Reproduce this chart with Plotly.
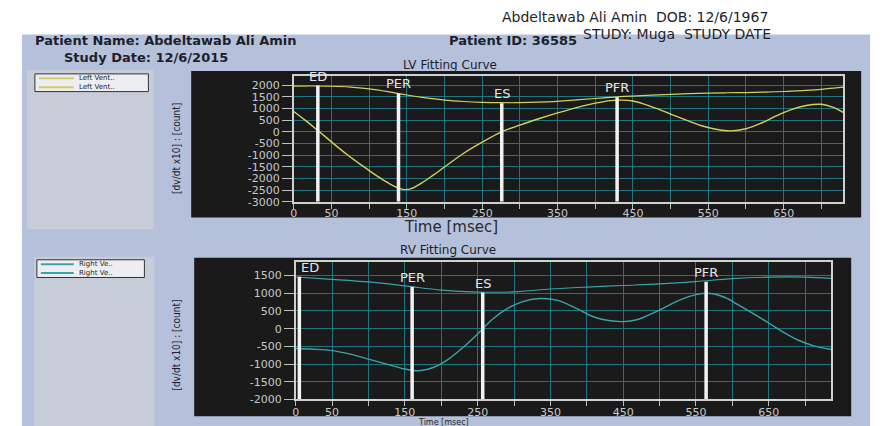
import plotly.graph_objects as go

W, H = 885, 426

# ---------------- data ----------------
lv_vol_t = [0, 25, 50, 75, 100, 125, 150, 175, 200, 225, 250, 275, 300, 325, 350, 375, 400,
            425, 450, 475, 500, 525, 550, 575, 600, 625, 650, 675, 700, 729]
lv_vol = [1960, 1965, 1955, 1920, 1840, 1720, 1580, 1460, 1360, 1300, 1265, 1250, 1250, 1270,
          1310, 1370, 1430, 1490, 1535, 1575, 1605, 1635, 1660, 1675, 1685, 1705, 1730, 1770,
          1820, 1915]

lv_rate_t = [0, 15, 30, 45, 60, 75, 90, 105, 120, 135, 145, 155, 170, 185, 200, 225, 250, 275,
             300, 325, 350, 375, 400, 420, 435, 450, 465, 480, 500, 520, 540, 560, 580, 600,
             620, 640, 660, 680, 700, 715, 729]
lv_rate = [870, 500, 110, -290, -700, -1080, -1430, -1770, -2090, -2360, -2470, -2450, -2190,
           -1860, -1510, -930, -445, -10, 290, 560, 810, 1040, 1230, 1340, 1360, 1320, 1190,
           1020, 760, 510, 270, 110, 40, 130, 370, 680, 950, 1130, 1180, 1060, 830]

rv_vol_t = [0, 50, 100, 150, 200, 250, 300, 350, 400, 450, 500, 550, 600, 650, 700, 736]
rv_vol = [1460, 1395, 1320, 1210, 1090, 1035, 1040, 1120, 1175, 1220, 1265, 1330, 1415, 1455,
          1455, 1420]

rv_rate_t = [0, 25, 50, 75, 100, 125, 150, 170, 190, 210, 230, 250, 270, 290, 310, 335, 360,
             385, 410, 430, 450, 470, 490, 510, 530, 550, 570, 590, 610, 630, 650, 670, 690,
             710, 736]
rv_rate = [-560, -580, -620, -720, -860, -1000, -1140, -1190, -1090, -860, -530, -150, 260, 560,
           750, 850, 800, 580, 330, 230, 200, 260, 430, 630, 830, 960, 995, 880, 650, 410, 160,
           -100, -320, -470, -590]

event_names = ["ED", "PER", "ES", "PFR"]
lv_event_t = [32, 139, 276, 429]
lv_event_top = [1985, 1648, 1225, 1479]
rv_event_t = [5, 160, 257, 564]
rv_event_top = [1464, 1186, 1019, 1325]

x_tick_vals = list(range(0, 701, 50))
x_tick_text = ["0", "50", "", "150", "", "250", "", "350", "", "450", "", "550", "", "650", ""]
lv_y_ticks = list(range(-3000, 2001, 500))
rv_y_ticks = list(range(-2000, 1501, 500))

lv_x_range = [0, 729]
lv_y_range = [-3000, 2400]
rv_x_range = [0, 736]
rv_y_range = [-2000, 1890]

# ---------------- style ----------------
FONT = "DejaVu Sans"
LV_COL = "#d2d062"
RV_COL = "#3aa3a8"
GRID = "#1f7480"
PANEL = "#1a1a1a"
PAGE = "#b5c1db"
LEGPANEL = "#c7cdd8"
TICKC = "#c8c8c8"
TEXTC = "#1d1f2a"


def px(x):
    return x / W


def py(y):
    return 1 - y / H


fig = go.Figure()

# curves
fig.add_trace(go.Scatter(x=lv_vol_t, y=lv_vol, mode="lines", line=dict(color=LV_COL, width=1.2, shape="spline"),
                         xaxis="x", yaxis="y", hoverinfo="skip"))
fig.add_trace(go.Scatter(x=lv_rate_t, y=lv_rate, mode="lines", line=dict(color=LV_COL, width=1.4, shape="spline"),
                         xaxis="x", yaxis="y", hoverinfo="skip"))
fig.add_trace(go.Scatter(x=rv_vol_t, y=rv_vol, mode="lines", line=dict(color=RV_COL, width=1.2, shape="spline"),
                         xaxis="x2", yaxis="y2", hoverinfo="skip"))
fig.add_trace(go.Scatter(x=rv_rate_t, y=rv_rate, mode="lines", line=dict(color=RV_COL, width=1.4, shape="spline"),
                         xaxis="x2", yaxis="y2", hoverinfo="skip"))


def event_xy(ts, tops, bottom):
    xs, ys = [], []
    for t, top in zip(ts, tops):
        xs += [t, t, None]
        ys += [bottom, top, None]
    return xs, ys


ex, ey = event_xy(lv_event_t, lv_event_top, lv_y_range[0])
fig.add_trace(go.Scatter(x=ex, y=ey, mode="lines", line=dict(color="#f2f2f2", width=3.5),
                         xaxis="x", yaxis="y", hoverinfo="skip"))
ex, ey = event_xy(rv_event_t, rv_event_top, rv_y_range[0])
fig.add_trace(go.Scatter(x=ex, y=ey, mode="lines", line=dict(color="#f2f2f2", width=3.5),
                         xaxis="x2", yaxis="y2", hoverinfo="skip"))

shapes = []


def rect(x0, y0, x1, y1, fill, line=None, lw=0):
    shapes.append(dict(type="rect", xref="paper", yref="paper", x0=px(x0), x1=px(x1),
                       y0=py(y1), y1=py(y0), fillcolor=fill,
                       line=dict(color=line or fill, width=lw), layer="below"))


def hline(x0, x1, y, color, w=2):
    shapes.append(dict(type="line", xref="paper", yref="paper", x0=px(x0), x1=px(x1),
                       y0=py(y), y1=py(y), line=dict(color=color, width=w), layer="above"))


rect(10, 27, 862, 426, PAGE)
rect(15, 63, 142, 225, LEGPANEL)
rect(22, 253, 143, 426, LEGPANEL)
rect(180, 64, 853, 213, PANEL)
rect(183, 254, 843, 415, PANEL)

# legend boxes
shapes.append(dict(type="rect", xref="paper", yref="paper", x0=px(23), x1=px(137), y0=py(85), y1=py(67),
                   fillcolor="#eceef1", line=dict(color="#333", width=1), layer="above"))
shapes.append(dict(type="rect", xref="paper", yref="paper", x0=px(25), x1=px(133), y0=py(274), y1=py(256),
                   fillcolor="#eceef1", line=dict(color="#333", width=1), layer="above"))
hline(27, 62, 71.5, LV_COL)
hline(27, 62, 80.5, LV_COL)
hline(29, 62, 260.5, RV_COL)
hline(29, 62, 269.5, RV_COL)

ann = []


def text(x, y, s, size, color=TEXTC, xanchor="left", bold=False, angle=0, yanchor="middle", family=FONT):
    ann.append(dict(x=px(x), y=py(y), xref="paper", yref="paper", text=s, showarrow=False,
                    xanchor=xanchor, yanchor=yanchor, textangle=angle, borderpad=0,
                    font=dict(family=family, size=size, color=color, weight="bold" if bold else "normal")))


text(491, 9, "Abdeltawab Ali Amin  DOB: 12/6/1967", 14)
text(573, 26, "STUDY: Muga  STUDY DATE", 14)
text(22, 33, "Patient Name: Abdeltawab Ali Amin", 13, bold=True)
text(438, 33, "Patient ID: 36585", 13, bold=True)
text(51, 50, "Study Date: 12/6/2015", 13, bold=True)
text(440, 58, "LV Fitting Curve", 12, xanchor="center")
text(438, 246, "RV Fitting Curve", 12, xanchor="center")
text(441, 223, "Time [msec]", 15, color="#2a2a2a", xanchor="center")
text(433, 421, "Time [msec]", 8, color="#2a2a2a", xanchor="center")
text(165, 143, "[dv/dt x10] : [count]", 10, angle=-90, xanchor="center",
     family="Liberation Sans Narrow, DejaVu Sans Condensed, Liberation Sans")
text(165, 343, "[dv/dt x10] : [count]", 10, angle=-90, xanchor="center",
     family="Liberation Sans Narrow, DejaVu Sans Condensed, Liberation Sans")
text(66, 71.5, "Left Vent..", 7)
text(66, 80.5, "Left Vent..", 7)
text(66, 260.5, "Right Ve..", 7)
text(66, 269.5, "Right Ve..", 7)

# event labels
for name, t, top in zip(event_names, lv_event_t, lv_event_top):
    ann.append(dict(x=t, y=top, xref="x", yref="y", text=name, showarrow=False, xanchor="center",
                    yanchor="bottom", yshift=0, font=dict(family=FONT, size=13, color="#e6e6e6")))
for i, (name, t, top) in enumerate(zip(event_names, rv_event_t, rv_event_top)):
    ann.append(dict(x=t, y=top, xref="x2", yref="y2", text=name, showarrow=False,
                    xanchor="left" if i == 0 else "center",
                    yanchor="bottom", yshift=0, font=dict(family=FONT, size=13, color="#e6e6e6")))

axis_common = dict(showgrid=True, gridcolor=GRID, gridwidth=1, zeroline=False, showline=True,
                   mirror=True, linecolor="#d0d0d0", linewidth=1.5, ticks="outside",
                   tickcolor="#bdbdbd", tickfont=dict(family=FONT, size=11, color=TICKC))

fig.update_layout(
    width=W, height=H, margin=dict(l=0, r=0, t=0, b=0),
    paper_bgcolor="white", plot_bgcolor=PANEL, showlegend=False,
    xaxis=dict(domain=[px(283), px(835)], range=lv_x_range, anchor="y", tickvals=x_tick_vals,
               ticktext=x_tick_text, ticklen=5, ticklabelstandoff=-5, **axis_common),
    yaxis=dict(domain=[py(197), py(69)], range=lv_y_range, anchor="x", tickvals=lv_y_ticks,
               ticktext=[str(v) for v in lv_y_ticks], ticklen=10, **axis_common),
    xaxis2=dict(domain=[px(285), px(823)], range=rv_x_range, anchor="y2", tickvals=x_tick_vals,
                ticktext=x_tick_text, ticklen=5, ticklabelstandoff=-3, **axis_common),
    yaxis2=dict(domain=[py(398), py(258)], range=rv_y_range, anchor="x2", tickvals=rv_y_ticks,
                ticktext=[str(v) for v in rv_y_ticks], ticklen=10, **axis_common),
    shapes=shapes, annotations=ann,
)

fig.write_html("out.html")
